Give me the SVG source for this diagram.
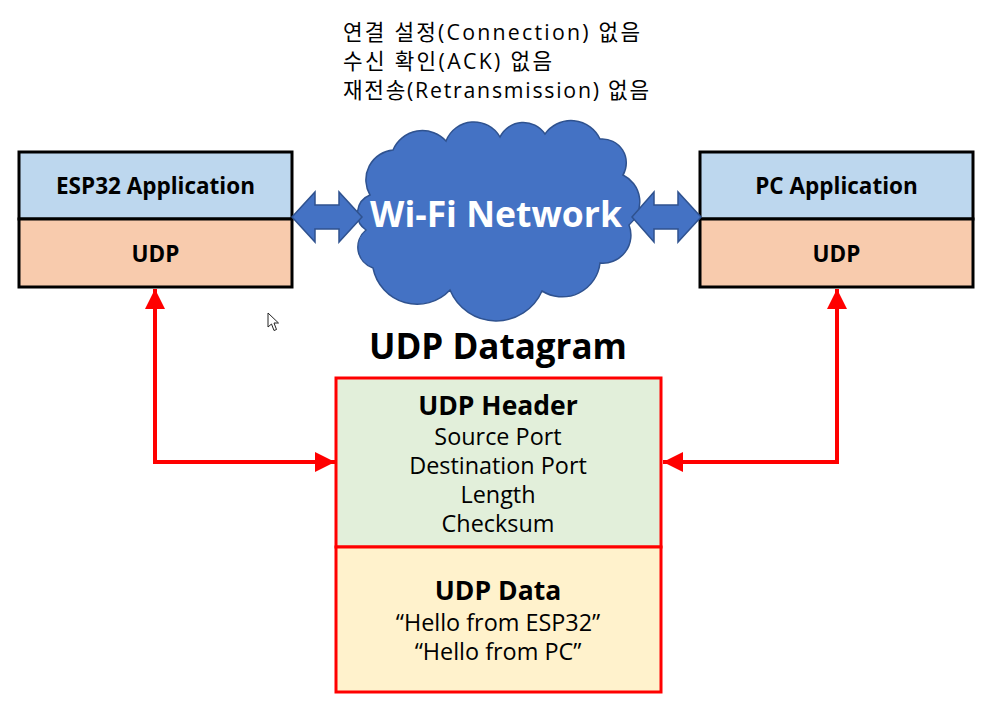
<svg xmlns="http://www.w3.org/2000/svg" width="985" height="705" viewBox="0 0 985 705">
<style>
text{font-family:"Open Sans","Noto Sans CJK KR",sans-serif;fill:#000}
.kr{font-family:"Open Sans","Noto Sans CJK KR",sans-serif;font-size:21.3px}
.bl{font-size:22.5px;font-weight:bold;text-anchor:middle}
.app{fill:#BDD7EE;stroke:#000;stroke-width:3}
.udp{fill:#F8CBAD;stroke:#000;stroke-width:3}
.dbl{fill:#4472C4;stroke:#2F528F;stroke-width:1.5}
.red{fill:none;stroke:#FF0000;stroke-width:4}
.mid{font-size:23.4px;text-anchor:middle}
.hd{font-size:26.5px;font-weight:bold;text-anchor:middle}
</style>
<defs>
<marker id="ah" viewBox="0 0 20 20" refX="20" refY="10" markerWidth="20" markerHeight="20" markerUnits="userSpaceOnUse" orient="auto-start-reverse">
<path d="M0,0 L20,10 L0,20 z" fill="#FF0000"/>
</marker>
</defs>
<rect width="985" height="705" fill="#fff"/>

<g id="notes">
<text class="kr" x="343" y="40" textLength="297" lengthAdjust="spacing">연결 설정(Connection) 없음</text>
<text class="kr" x="343" y="69" textLength="209" lengthAdjust="spacing">수신 확인(ACK) 없음</text>
<text class="kr" x="343" y="98" textLength="306" lengthAdjust="spacing">재전송(Retransmission) 없음</text>
</g>

<g id="esp32">
<rect class="app" x="19" y="152" width="273" height="67"/>
<rect class="udp" x="19" y="219" width="273" height="68"/>
<text class="bl" x="155.5" y="194">ESP32 Application</text>
<text class="bl" x="155.5" y="262">UDP</text>
</g>

<g id="pc">
<rect class="app" x="700" y="152" width="273" height="67"/>
<rect class="udp" x="700" y="219" width="273" height="68"/>
<text class="bl" x="836.5" y="194">PC Application</text>
<text class="bl" x="836.5" y="262">UDP</text>
</g>

<g id="wifi">
<path fill="#4472C4" stroke="#2F528F" stroke-width="1.5" d="M366,230 A20 20 0 0 1 370,195 A30 30 0 0 1 393,150 A32 32 0 0 1 446,141 A30 30 0 0 1 500,137 A26 26 0 0 1 545,134 A32 32 0 0 1 600,139 A24 24 0 0 1 623,175 A30 30 0 0 1 629,225 A28 28 0 0 1 600,263 A38 38 0 0 1 542,291 A50 50 0 0 1 450,290 A45 45 0 0 1 373,268 A22 22 0 0 1 366,230 Z"/>
<text x="496" y="227" text-anchor="middle" font-size="35.5" font-weight="bold" style="fill:#fff">Wi-Fi Network</text>
</g>

<g id="datagram">
<text x="498" y="359" text-anchor="middle" font-size="35" font-weight="bold">UDP Datagram</text>
<rect x="336" y="378" width="325" height="169" fill="#E2EFDA" stroke="#FF0000" stroke-width="3"/>
<rect x="336" y="547" width="325" height="145" fill="#FFF2CC" stroke="#FF0000" stroke-width="3"/>
<text class="hd" x="498" y="415">UDP Header</text>
<text class="mid" x="498" y="445">Source Port</text>
<text class="mid" x="498" y="474">Destination Port</text>
<text class="mid" x="498" y="503">Length</text>
<text class="mid" x="498" y="532">Checksum</text>
<text class="hd" x="498" y="600">UDP Data</text>
<text class="mid" x="498" y="631">“Hello from ESP32”</text>
<text class="mid" x="498" y="660">“Hello from PC”</text>
</g>

<g id="connectors">
<path class="dbl" d="M292,217 L315,192 L315,205 L339,205 L339,192 L362,217 L339,242 L339,229 L315,229 L315,242 Z"/>
<path class="dbl" d="M632,217 L654,192 L654,205 L678,205 L678,192 L701,217 L678,242 L678,229 L654,229 L654,242 Z"/>
<path class="red" d="M155,289 V462 H335" marker-start="url(#ah)" marker-end="url(#ah)"/>
<path class="red" d="M837,289 V462 H663" marker-start="url(#ah)" marker-end="url(#ah)"/>
</g>

<path d="M268,313 L268,327 L271.5,324 L274,330.5 L276.5,329.5 L274,323 L278.5,323 Z" fill="#fff" stroke="#222" stroke-width="1"/>
</svg>
